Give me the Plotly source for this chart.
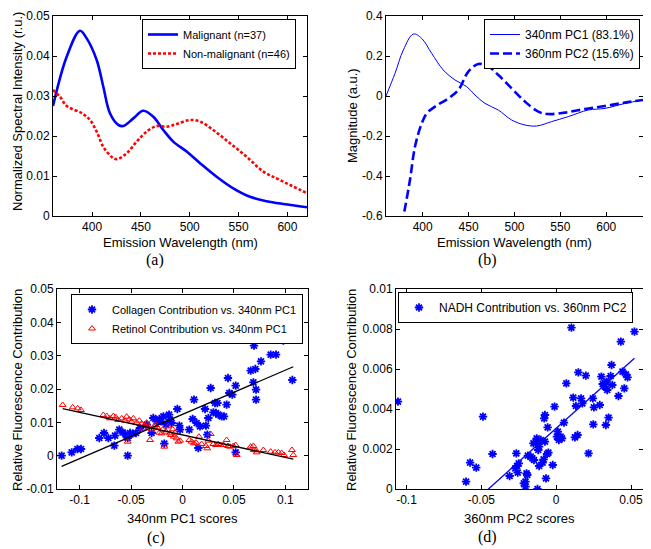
import numpy as np
import plotly.graph_objects as go

# ---- (a) mean normalized spectra ----
wl_malig = [360, 374, 387.6, 394.5, 404.7, 411.5, 418.3, 426.8, 432, 442.2, 452.4, 462.7,
            472.9, 483.1, 496.8, 510.5, 527.5, 544.5, 561.6, 578.7, 595.7, 620]
int_malig = [0.0275, 0.0398, 0.0463, 0.0444, 0.039, 0.0323, 0.0257, 0.0228, 0.0225, 0.0244, 0.0263, 0.0248,
             0.0215, 0.0186, 0.0161, 0.0132, 0.0098, 0.0069, 0.0048, 0.0037, 0.003, 0.0022]
wl_nonmalig = [360, 367.2, 374, 389.4, 397.9, 404.7, 411.5, 420, 425.2, 435.4, 445.7, 455.9,
               466.1, 476.4, 486.6, 500.2, 510.5, 524, 541.2, 558.3, 575.3, 592.3, 620]
int_nonmalig = [0.0315, 0.0298, 0.0275, 0.0257, 0.024, 0.0211, 0.0173, 0.0148, 0.0142, 0.0157, 0.0186, 0.0211,
                0.0225, 0.0223, 0.023, 0.024, 0.0236, 0.0215, 0.0182, 0.0148, 0.0111, 0.009, 0.0057]

# ---- (b) principal components ----
wl_pc1 = [360, 369.8, 378.9, 389.8, 398.9, 409.8, 422.4, 435.2, 447.9, 457, 467.8,
          482.3, 496.9, 511.4, 524.2, 540.5, 558.6, 580.4, 598.6, 620.4, 640]
pc1 = [0, 0.113, 0.23, 0.31, 0.288, 0.213, 0.13, 0.08, 0.047, 0.005, -0.037,
       -0.07, -0.12, -0.145, -0.15, -0.128, -0.103, -0.07, -0.062, -0.037, -0.02]
wl_pc2 = [380, 386.1, 391.6, 398.9, 404.3, 413.4, 427.9, 438.8, 449.7, 460.6, 471.5,
          482.4, 496.9, 511.4, 525.9, 536.8, 555, 576.8, 598.6, 620.4, 640]
pc2 = [-0.578, -0.42, -0.253, -0.137, -0.087, -0.053, -0.012, 0.03, 0.122, 0.16, 0.147,
       0.105, 0.038, -0.028, -0.078, -0.09, -0.083, -0.065, -0.05, -0.033, -0.02]

# ---- (c) collagen / retinol vs 340nm PC1 scores ----
coll_x = [-0.1175, -0.1077, -0.1022, -0.0987, -0.0809, -0.0763, -0.0721, -0.0663, -0.0656, -0.0614,
          -0.0582, -0.0553, -0.0533, -0.0533, -0.051, -0.0484, -0.0452, -0.0413, -0.0348, -0.03,
          -0.0284, -0.0251, -0.0225, -0.0209, -0.0186, -0.0177, -0.016, -0.0131, -0.0122, -0.0105,
          -0.005, -0.0031, -0.0024, 0.0066, 0.0099, 0.0112, 0.0138, 0.0154, 0.017, 0.0219,
          0.0228, 0.0241, 0.0251, 0.0274, 0.03, 0.0316, 0.0326, 0.0339, 0.0348, 0.0381,
          0.0403, 0.0429, 0.0442, 0.0455, 0.0484, 0.0517, 0.0517, 0.0663, 0.0689, 0.0695,
          0.0708, 0.0715, 0.0715, 0.0763, 0.0857, 0.0909, 0.0915, 0.098, 0.1068, 0.1077]
coll_y = [0.0, 0.001, 0.002, 0.002, 0.0053, 0.0068, 0.0053, 0.003, 0.006, 0.0078,
          0.007, 0.0063, 0.0053, 0.0, 0.0068, 0.0066, 0.0068, 0.0083, 0.0093, 0.0068,
          0.0113, 0.0103, 0.011, 0.0103, 0.0118, 0.0036, 0.0093, 0.0123, 0.0108, 0.0098,
          0.014, 0.009, 0.0078, 0.0078, 0.011, 0.0168, 0.0098, 0.0023, 0.0088, 0.014,
          0.009, 0.0063, 0.0113, 0.0203, 0.013, 0.0158, 0.0128, 0.0158, 0.0123, 0.0118,
          0.0118, 0.0153, 0.0233, 0.0188, 0.0183, 0.001, 0.021, 0.0255, 0.022, 0.033,
          0.026, 0.0198, 0.0168, 0.0283, 0.0303, 0.0303, 0.038, 0.0345, 0.0227, 0.0348]
ret_x = [-0.1165, -0.1068, -0.1019, -0.0987, -0.077, -0.0737, -0.0705, -0.0672, -0.0647, -0.0624,
         -0.0591, -0.0559, -0.0543, -0.0533, -0.0517, -0.0494, -0.0478, -0.0446, -0.042, -0.0397,
         -0.0381, -0.0365, -0.0348, -0.0332, -0.0316, -0.03, -0.0277, -0.0258, -0.0245, -0.0225,
         -0.0203, -0.0193, -0.0177, -0.016, -0.0138, -0.0122, -0.0112, -0.0096, -0.0083, -0.0073,
         -0.0057, -0.004, -0.0024, 0.0066, 0.0089, 0.0112, 0.0131, 0.016, 0.0186, 0.0228,
         0.0241, 0.0251, 0.0274, 0.03, 0.0326, 0.0348, 0.0371, 0.0397, 0.0429, 0.0442,
         0.0462, 0.0494, 0.0517, 0.0527, 0.0663, 0.0689, 0.0695, 0.0715, 0.0722, 0.0786,
         0.0857, 0.0899, 0.0932, 0.0964, 0.0987, 0.1064, 0.1077]
ret_y = [0.0152, 0.0145, 0.0142, 0.0137, 0.0122, 0.0119, 0.0112, 0.0119, 0.0115, 0.0107,
         0.0112, 0.0105, 0.0117, 0.0042, 0.0109, 0.0102, 0.0112, 0.0099, 0.0105, 0.0096,
         0.0082, 0.0092, 0.0099, 0.0088, 0.0047, 0.0078, 0.0088, 0.0092, 0.0085, 0.0069,
         0.0067, 0.0078, 0.0027, 0.0072, 0.0088, 0.0067, 0.0062, 0.0079, 0.0057, 0.0069,
         0.0052, 0.0042, 0.0045, 0.0047, 0.0042, 0.0037, 0.0039, 0.0057, 0.0035, 0.0029,
         0.0022, 0.0045, 0.0065, 0.0035, 0.0032, 0.0035, 0.0032, 0.0032, 0.0047, 0.0029,
         0.0027, 0.0029, 0.0032, 0.0002, 0.0027, 0.0029, 0.0017, 0.0016, 0.001, 0.0017,
         0.0012, 0.001, 0.001, 0.0008, 0.0002, 0.0017, 0.0002]

# ---- (d) NADH vs 360nm PC2 scores ----
nadh_x = [-0.1057, -0.0489, -0.0602, -0.0575, -0.0534, -0.0425, -0.0311, -0.0266, -0.0273, -0.0261,
          -0.025, -0.0257, -0.0216, -0.0205, -0.0205, -0.0198, -0.0193, -0.0189, -0.017, -0.0159,
          -0.0148, -0.0152, -0.0136, -0.013, -0.0125, -0.012, -0.0114, -0.0114, -0.0102, -0.0091,
          -0.0084, -0.008, -0.0075, -0.0075, -0.0068, -0.0061, -0.0057, -0.0052, -0.0023, -0.0011,
          0.0005, 0.0011, 0.0018, 0.003, 0.0039, 0.0052, 0.0068, 0.0102, 0.0114, 0.0125,
          0.0132, 0.0143, 0.0148, 0.0166, 0.0175, 0.0198, 0.0216, 0.0245, 0.0248, 0.0252,
          0.0291, 0.0302, 0.0311, 0.0325, 0.0332, 0.0336, 0.0341, 0.035, 0.0364, 0.037,
          0.0375, 0.0416, 0.0432, 0.0443, 0.0455, 0.0466, 0.0477, 0.0523]
nadh_y = [0.00437, 0.00362, 0.00037, 0.00132, 0.00107, 0.00175, 0.00065, 0.00178, 0.00103, 0.00115,
          0.00128, 0.00082, 0.00028, 0.00012, 0.00037, 0.00078, 0.0007, 0.00167, 0.00162, 0.00153,
          0.00145, 0.00228, 0.00237, 0.00253, 0.0, 0.00195, 0.00115, 0.00212, 0.00245, 0.00132,
          0.00148, 0.00353, 0.0037, 0.00237, 0.00053, 0.00175, 0.00308, 0.00182, 0.0012, 0.00412,
          0.00262, 0.00287, 0.00245, 0.00262, 0.00253, 0.00332, 0.00528, 0.00807, 0.00457, 0.00258,
          0.00415, 0.0027, 0.00583, 0.00453, 0.00428, 0.00567, 0.00178, 0.00453, 0.00323, 0.00408,
          0.0042, 0.00562, 0.00525, 0.00512, 0.0032, 0.00537, 0.00495, 0.00357, 0.00565, 0.0062,
          0.0052, 0.00465, 0.00737, 0.00587, 0.00503, 0.00573, 0.00558, 0.00787]

# tick labels (MATLAB style, plain hyphen minus)
a_xticks = [400, 450, 500, 550, 600]
a_yticks = [0, 0.01, 0.02, 0.03, 0.04, 0.05]
a_ylabels = ['0', '0.01', '0.02', '0.03', '0.04', '0.05']
b_xticks = [400, 450, 500, 550, 600]
b_yticks = [-0.6, -0.4, -0.2, 0, 0.2, 0.4]
b_ylabels = ['-0.6', '-0.4', '-0.2', '0', '0.2', '0.4']
c_xticks = [-0.1, -0.05, 0, 0.05, 0.1]
c_xlabels = ['-0.1', '-0.05', '0', '0.05', '0.1']
c_yticks = [-0.01, 0, 0.01, 0.02, 0.03, 0.04, 0.05]
c_ylabels = ['-0.01', '0', '0.01', '0.02', '0.03', '0.04', '0.05']
d_xticks = [-0.1, -0.05, 0, 0.05]
d_xlabels = ['-0.1', '-0.05', '0', '0.05']
d_yticks = [0, 0.002, 0.004, 0.006, 0.008, 0.01]
d_ylabels = ['0', '0.002', '0.004', '0.006', '0.008', '0.01']

SANS = 'Liberation Sans, Arial, sans-serif'
SERIF = 'Liberation Serif, Times New Roman, serif'
BLUE = '#0000ff'
RED = '#ff0000'
W, H = 651, 549
PAGE = 8  # the html body margin shifts the figure by this much


def px_x(p):
    return (p - PAGE) / W


def px_y(p):
    return 1 - (p - PAGE) / H


def fit_line(x, y, rma=False):
    # least-squares line over the data range (or reduced major axis)
    x = np.asarray(x)
    y = np.asarray(y)
    if rma:
        k = np.sign(np.corrcoef(x, y)[0, 1]) * y.std() / x.std()
        b = y.mean() - k * x.mean()
    else:
        k, b = np.polyfit(x, y, 1)
    xs = np.array([x.min(), x.max()])
    return xs, k * xs + b


fig = go.Figure()

# (a)
fig.add_trace(go.Scatter(x=wl_malig, y=int_malig, mode='lines', name='Malignant (n=37)',
                         line=dict(color=BLUE, width=2.6, shape='spline'),
                         xaxis='x', yaxis='y', legend='legend'))
fig.add_trace(go.Scatter(x=wl_nonmalig, y=int_nonmalig, mode='lines', name='Non-malignant (n=46)',
                         line=dict(color=RED, width=2.6, shape='spline', dash='3px,2px'),
                         xaxis='x', yaxis='y', legend='legend'))
# (b)
fig.add_trace(go.Scatter(x=wl_pc1, y=pc1, mode='lines', name='340nm PC1 (83.1%)',
                         line=dict(color=BLUE, width=1, shape='spline'),
                         xaxis='x2', yaxis='y2', legend='legend2'))
fig.add_trace(go.Scatter(x=wl_pc2, y=pc2, mode='lines', name='360nm PC2 (15.6%)',
                         line=dict(color=BLUE, width=2.6, shape='spline', dash='9px,4px'),
                         xaxis='x2', yaxis='y2', legend='legend2'))
# (c)
fig.add_trace(go.Scatter(x=coll_x, y=coll_y, mode='markers', name='Collagen Contribution vs. 340nm PC1',
                         marker=dict(symbol='asterisk-open', size=7, color=BLUE, line=dict(color=BLUE, width=1.8)),
                         xaxis='x3', yaxis='y3', legend='legend3'))
fig.add_trace(go.Scatter(x=ret_x, y=ret_y, mode='markers', name='Retinol Contribution vs. 340nm PC1',
                         marker=dict(symbol='triangle-up-open', size=6, color=RED, line=dict(color=RED, width=1)),
                         xaxis='x3', yaxis='y3', legend='legend3'))
fx, fy = fit_line(coll_x, coll_y)
fig.add_trace(go.Scatter(x=fx, y=fy, mode='lines', line=dict(color='black', width=1.3),
                         showlegend=False, xaxis='x3', yaxis='y3'))
fx, fy = fit_line(ret_x, ret_y)
fig.add_trace(go.Scatter(x=fx, y=fy, mode='lines', line=dict(color='black', width=1.3),
                         showlegend=False, xaxis='x3', yaxis='y3'))
# (d)
fig.add_trace(go.Scatter(x=nadh_x, y=nadh_y, mode='markers', name='NADH Contribution vs. 360nm PC2',
                         marker=dict(symbol='asterisk-open', size=7, color=BLUE, line=dict(color=BLUE, width=1.8)),
                         xaxis='x4', yaxis='y4', legend='legend4'))
fx, fy = fit_line(nadh_x, nadh_y, rma=True)
fig.add_trace(go.Scatter(x=fx, y=fy, mode='lines', line=dict(color=BLUE, width=1.3),
                         showlegend=False, xaxis='x4', yaxis='y4'))


def axis(domain, rng, tickvals, ticktext, anchor):
    return dict(domain=domain, range=rng, tickvals=tickvals, ticktext=ticktext, anchor=anchor,
                ticks='inside', ticklen=4, tickcolor='black', showline=True, mirror='ticks',
                linecolor='black', linewidth=1, showgrid=False, zeroline=False, automargin=False,
                tickfont=dict(family=SANS, size=12, color='black'))


def legend(x, y, size):
    return dict(x=px_x(x), y=px_y(y), xanchor='left', yanchor='top', bgcolor='white',
                bordercolor='black', borderwidth=1, font=dict(family=SANS, size=size, color='black'))


top = [px_y(216), px_y(16)]
bottom = [px_y(489), px_y(289)]

annotations = []


def text(x, y, s, size=13, angle=0, family=SANS):
    annotations.append(dict(x=px_x(x), y=px_y(y), xref='paper', yref='paper', text=s, showarrow=False,
                            textangle=angle, xanchor='center', yanchor='middle',
                            font=dict(family=family, size=size, color='black')))


text(180, 242, 'Emission Wavelength (nm)')
text(514, 242, 'Emission Wavelength (nm)')
text(182, 518, '340nm PC1 scores')
text(519, 518, '360nm PC2 scores')
text(17, 112, 'Normalized Spectral Intensity (r.u.)', angle=-90)
text(352, 116, 'Magnitude (a.u.)', angle=-90)
text(17, 390, 'Relative Fluorescence Contribution', angle=-90)
text(351, 390, 'Relative Fluorescence Contribution', angle=-90)
text(155, 260, '(a)', size=16, family=SERIF)
text(487, 260, '(b)', size=16, family=SERIF)
text(156, 538, '(c)', size=16, family=SERIF)
text(487, 537, '(d)', size=16, family=SERIF)

fig.update_layout(
    template='none',
    width=W, height=H,
    margin=dict(l=0, r=0, t=0, b=0, autoexpand=False),
    paper_bgcolor='white', plot_bgcolor='white',
    xaxis=axis([px_x(53), px_x(307)], [360, 620], a_xticks, [str(v) for v in a_xticks], 'y'),
    yaxis=axis(top, [0, 0.05], a_yticks, a_ylabels, 'x'),
    xaxis2=axis([px_x(386), px_x(643)], [360, 640], b_xticks, [str(v) for v in b_xticks], 'y2'),
    yaxis2=axis(top, [-0.6, 0.4], b_yticks, b_ylabels, 'x2'),
    xaxis3=axis([px_x(57), px_x(308)], [-0.122, 0.122], c_xticks, c_xlabels, 'y3'),
    yaxis3=axis(bottom, [-0.01, 0.05], c_yticks, c_ylabels, 'x3'),
    xaxis4=axis([px_x(396), px_x(643)], [-0.107, 0.058], d_xticks, d_xlabels, 'y4'),
    yaxis4=axis(bottom, [0, 0.01], d_yticks, d_ylabels, 'x4'),
    legend=legend(142, 19, 11),
    legend2=legend(484, 19, 12),
    legend3=legend(71, 294, 11),
    legend4=legend(398, 292, 12),
    annotations=annotations,
)

fig.write_html("out.html")
